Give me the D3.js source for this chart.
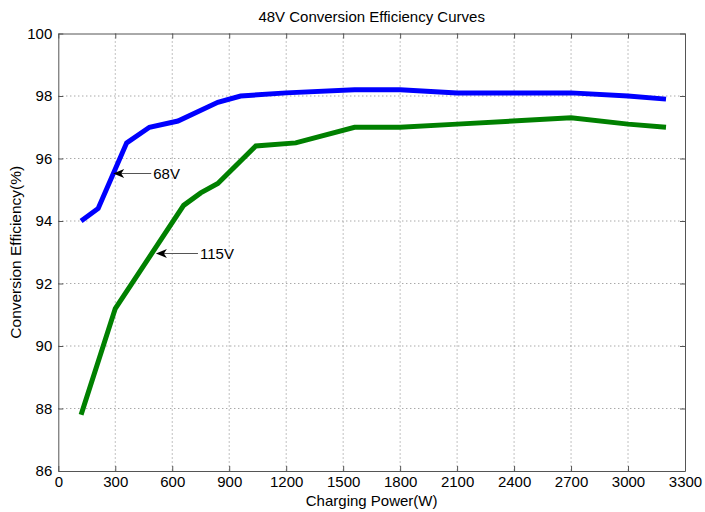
<!DOCTYPE html>
<html>
<head>
<meta charset="utf-8">
<script src="https://cdn.jsdelivr.net/npm/d3@7"></script>
<style>
  html, body { margin: 0; padding: 0; background: #fff; }
  svg { display: block; }
  text { font-family: "Liberation Sans", Arial, sans-serif; fill: #000; }
</style>
</head>
<body>
<svg id="chart" width="705" height="512"></svg>
<script>
// ---- data ----
const title = "48V Conversion Efficiency Curves";
const xLabel = "Charging Power(W)";
const yLabel = "Conversion Efficiency(%)";

const xTicks = [0, 300, 600, 900, 1200, 1500, 1800, 2100, 2400, 2700, 3000, 3300];
const yTicks = [86, 88, 90, 92, 94, 96, 98, 100];

const power68V = [120, 210, 360, 480, 630, 840, 960, 1200, 1560, 1800, 2100, 2700, 3000, 3200];
const eff68V   = [94.0, 94.4, 96.5, 97.0, 97.2, 97.8, 98.0, 98.1, 98.2, 98.2, 98.1, 98.1, 98.0, 97.9];

const power115V = [120, 300, 660, 750, 840, 1040, 1250, 1560, 1800, 2100, 2700, 3000, 3200];
const eff115V   = [87.8, 91.2, 94.5, 94.9, 95.2, 96.4, 96.5, 97.0, 97.0, 97.1, 97.3, 97.1, 97.0];

const seriesNames  = ["68V", "115V"];
const seriesColors = ["#0000ff", "#008000"];

// annotation: arrow tip (data coords), text start x (data coords)
const annotTipX  = [289, 514];
const annotTipY  = [95.52, 92.96];
const annotTextX = [500, 746];

// ---- drawing ----
const svg = d3.select("#chart");
const m = { left: 58.3, right: 685, top: 33.5, bottom: 471 };
const FS = 15;

const x = d3.scaleLinear().domain([0, 3300]).range([m.left, m.right]);
const y = d3.scaleLinear().domain([86, 100]).range([m.bottom, m.top]);

// grid
const grid = svg.append("g").attr("stroke", "#000").attr("stroke-width", 0.8)
  .attr("stroke-dasharray", "1,3").attr("opacity", 0.6);
xTicks.slice(1, -1).forEach(t => {
  grid.append("line").attr("x1", x(t)).attr("x2", x(t)).attr("y1", m.top).attr("y2", m.bottom);
});
yTicks.slice(1, -1).forEach(t => {
  grid.append("line").attr("y1", y(t)).attr("y2", y(t)).attr("x1", m.left).attr("x2", m.right);
});

// axes
const fmt = d3.format("d");
const xAxis = d3.axisBottom(x).tickValues(xTicks).tickFormat(fmt).tickSizeInner(-5).tickSizeOuter(0).tickPadding(5);
const yAxis = d3.axisLeft(y).tickValues(yTicks).tickFormat(fmt).tickSizeInner(-5).tickSizeOuter(0).tickPadding(6);
const xTop = d3.axisTop(x).tickValues(xTicks).tickSizeInner(-5).tickSizeOuter(0).tickFormat("");
const yRight = d3.axisRight(y).tickValues(yTicks).tickSizeInner(-5).tickSizeOuter(0).tickFormat("");

const styleAxis = g => {
  g.selectAll("path").attr("stroke", "#555").attr("stroke-width", 1);
  g.selectAll("line").attr("stroke", "#555").attr("stroke-width", 1);
  g.selectAll("text").attr("font-size", FS).attr("font-family", "Liberation Sans, Arial, sans-serif");
};

svg.append("g").attr("transform", `translate(0,${m.bottom})`).call(xAxis).call(styleAxis);
svg.append("g").attr("transform", `translate(${m.left},0)`).call(yAxis).call(styleAxis);
svg.append("g").attr("transform", `translate(0,${m.top})`).call(xTop).call(styleAxis);
svg.append("g").attr("transform", `translate(${m.right},0)`).call(yRight).call(styleAxis);

// lines
const line = d3.line().x(d => x(d[0])).y(d => y(d[1]));
const series = [
  d3.zip(power68V, eff68V),
  d3.zip(power115V, eff115V)
];
series.forEach((s, i) => {
  svg.append("path").datum(s)
    .attr("d", line)
    .attr("fill", "none")
    .attr("stroke", seriesColors[i])
    .attr("stroke-width", 5)
    .attr("stroke-linejoin", "miter")
    .attr("stroke-linecap", "butt");
});

// annotations
seriesNames.forEach((name, i) => {
  const tx = x(annotTipX[i]), ty = y(annotTipY[i]);
  const ex = x(annotTextX[i]);
  svg.append("line").attr("x1", tx + 2).attr("x2", ex - 2).attr("y1", ty).attr("y2", ty)
    .attr("stroke", "#555").attr("stroke-width", 1);
  svg.append("path")
    .attr("d", `M${tx},${ty} L${tx + 11},${ty - 4.5} L${tx + 8},${ty} L${tx + 11},${ty + 4.5} Z`)
    .attr("fill", "#000");
  svg.append("text").attr("x", ex).attr("y", ty).attr("dy", "0.36em")
    .attr("font-size", FS).text(name);
});

// title and labels
svg.append("text").attr("x", (m.left + m.right) / 2).attr("y", 22)
  .attr("text-anchor", "middle").attr("font-size", 15).text(title);
svg.append("text").attr("x", (m.left + m.right) / 2).attr("y", 506)
  .attr("text-anchor", "middle").attr("font-size", 15).text(xLabel);
svg.append("text")
  .attr("transform", `translate(21,${(m.top + m.bottom) / 2}) rotate(-90)`)
  .attr("text-anchor", "middle").attr("font-size", 15.5).text(yLabel);
</script>
</body>
</html>
